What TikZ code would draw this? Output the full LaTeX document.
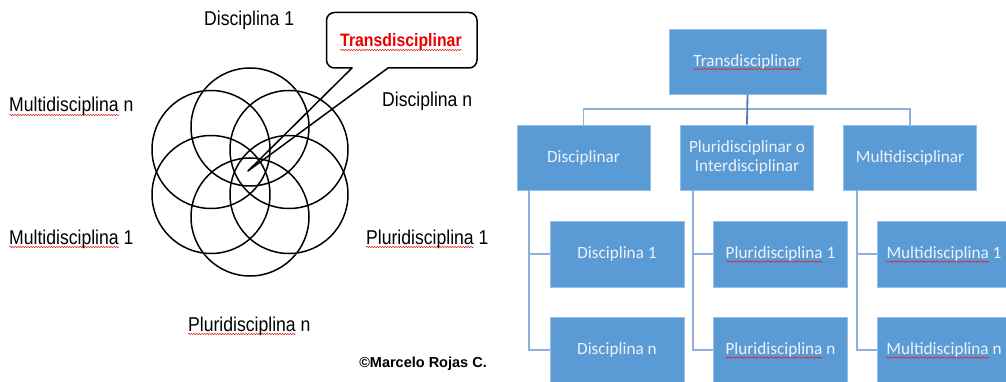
\documentclass[tikz,border=0pt]{standalone}
\usepackage{fontspec}
\usetikzlibrary{decorations.pathmorphing}
\setmainfont{Liberation Sans}
\newfontfamily\arialn{Liberation Sans}[FakeStretch=0.88]
\newfontfamily\calib{Carlito}
\definecolor{boxblue}{RGB}{91,155,213}
\definecolor{boxedge}{RGB}{150,190,230}
\definecolor{connblue}{RGB}{143,176,218}
\definecolor{trunkblue}{RGB}{85,122,170}
\definecolor{boxtext}{RGB}{236,242,250}
\definecolor{squig}{RGB}{225,30,30}
\definecolor{callred}{RGB}{235,0,0}
\newlength{\sqlen}
\newcommand{\sqw}[1]{\settowidth{\sqlen}{#1}\rlap{\tikz[overlay,baseline=0pt]\draw[squig, line width=0.5pt, decorate, decoration={snake, amplitude=0.7pt, segment length=2.6pt}] (0pt,-3pt) -- (\sqlen,-3pt);}#1}
\tikzset{
  lbl/.style={anchor=base west, inner sep=0pt, font=\arialn\fontsize{20}{24}\selectfont, text=black},
  circ/.style={draw=black, line width=1.5pt},
  callbox/.style={draw=black, line width=1.5pt, line join=round},
  bluebox/.style={draw=boxedge, line width=0.6pt, fill=boxblue, inner sep=0pt, text=boxtext,
    font=\calib\fontsize{17.2}{19.5}\selectfont, align=center},
  lvtwo/.style={bluebox, minimum width=133pt, minimum height=65pt},
  lvthree/.style={bluebox, minimum width=134pt, minimum height=66pt},
  conn/.style={draw=connblue, line width=1.8pt},
  trunk/.style={draw=trunkblue, line width=1.8pt}
}
\begin{document}
\begin{tikzpicture}[x=1pt,y=-1pt]
\useasboundingbox (0,0) rectangle (1006,382);
% ---- left: circles ----
\draw[circ] (250,127) circle[radius=59pt];
\draw[circ] (211,149.5) circle[radius=59pt];
\draw[circ] (289,149.5) circle[radius=59pt];
\draw[circ] (211,194.5) circle[radius=59pt];
\draw[circ] (289,194.5) circle[radius=59pt];
\draw[circ] (250,217) circle[radius=59pt];
% ---- callout ----
\coordinate (tip) at (248,171);
\draw[callbox] (352,68) -- (tip) -- (388,68) [rounded corners=8pt] -- (477,68) -- (477,12.5) -- (326.5,12.5) -- (326.5,68) -- (352.5,68);
\node[anchor=base west, inner sep=0pt, font=\arialn\bfseries\fontsize{18}{22}\selectfont, text=callred] (calltext) at (340,47) {\sqw{Transdisciplinar}};
% ---- left labels ----
\node[lbl] (d1) at (204,26) {Disciplina 1};
\node[lbl] (mn) at (9,112) {\sqw{Multidisciplina} n};
\node[lbl] (dn) at (382,107) {Disciplina n};
\node[lbl] (m1) at (9,244) {\sqw{Multidisciplina} 1};
\node[lbl] (p1) at (366,244) {\sqw{Pluridisciplina} 1};
\node[lbl] (pn) at (188,331) {\sqw{Pluridisciplina} n};
\node[anchor=base east, inner sep=0pt, font=\bfseries\fontsize{14.5}{17}\selectfont] (copy) at (487,367) {©Marcelo Rojas C.};
% ---- right: org chart ----
\node[bluebox, minimum width=157pt, minimum height=65pt] (top) at (747.5,61.5) {\sqw{Transdisciplinar}};
\node[lvtwo] (dis) at (583.5,157.5) {Disciplinar};
\node[lvtwo] (plu) at (747,157.5) {Pluridisciplinar o\\Interdisciplinar};
\node[lvtwo] (mul) at (910,157.5) {Multidisciplinar};
\node[lvthree] (dis1) at (617,254) {Disciplina 1};
\node[lvthree] (disn) at (617,350) {Disciplina n};
\node[lvthree] (plu1) at (780.5,254) {\sqw{Pluridisciplina} 1};
\node[lvthree] (plun) at (780.5,350) {\sqw{Pluridisciplina} n};
\node[lvthree] (mul1) at (944,254) {\sqw{Multidisciplina} 1};
\node[lvthree] (muln) at (944,350) {\sqw{Multidisciplina} n};
% connectors
\coordinate (j) at ([yshift=-15pt]top.south);
\draw[conn] (j) -| (dis.north);
\draw[conn] (j) -| (mul.north);
\draw[trunk] (top.south) -- (plu.north);
\draw[conn] ([xshift=12pt]dis.south west) |- (dis1.west);
\draw[conn] ([xshift=12pt]dis.south west) |- (disn.west);
\draw[conn] ([xshift=13pt]plu.south west) |- (plu1.west);
\draw[conn] ([xshift=13pt]plu.south west) |- (plun.west);
\draw[conn] ([xshift=14pt]mul.south west) |- (mul1.west);
\draw[conn] ([xshift=14pt]mul.south west) |- (muln.west);
\end{tikzpicture}
\end{document}
